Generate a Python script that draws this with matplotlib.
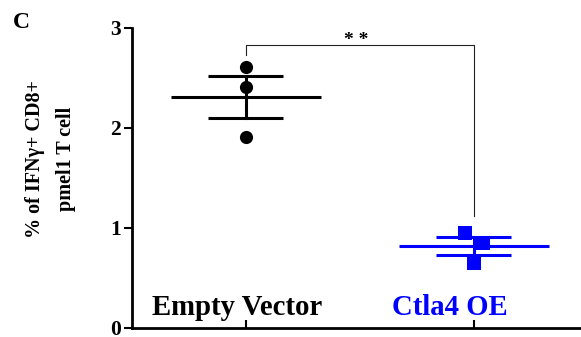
import numpy as np
import matplotlib.pyplot as plt

# data
groups = ["Empty Vector", "Ctla4 OE"]
empty_vector = [2.61, 2.41, 1.91]
ctla4_oe = [0.95, 0.85, 0.65]
jitter = [[0.0, 0.0, 0.0], [-0.04, 0.04, 0.0]]
colors = ["black", "#0000ff"]
markers = ["o", "s"]
yticks = [0, 1, 2, 3]
sig_label = "* *"

plt.rcParams['font.family'] = ['Liberation Serif', 'DejaVu Serif']
plt.rcParams['font.weight'] = 'bold'

fig = plt.figure(figsize=(5.81, 3.37), dpi=100)
ax = fig.add_axes([0.227, 0.027, 0.771, 0.890])

for i, vals in enumerate([empty_vector, ctla4_oe]):
    vals = np.asarray(vals)
    m = vals.mean()
    sem = vals.std(ddof=1) / np.sqrt(len(vals))
    c = colors[i]
    ax.scatter(i + np.asarray(jitter[i]), vals, s=90, marker=markers[i],
               color=c, zorder=3, linewidths=0)
    ax.plot([i - 0.33, i + 0.33], [m, m], color=c, lw=2.2, solid_capstyle='butt')
    ax.plot([i - 0.165, i + 0.165], [m + sem, m + sem], color=c, lw=2.2, solid_capstyle='butt')
    ax.plot([i - 0.165, i + 0.165], [m - sem, m - sem], color=c, lw=2.2, solid_capstyle='butt')
    ax.plot([i, i], [m - sem, m + sem], color=c, lw=2.2)

# significance bracket
ax.plot([0, 0, 1, 1], [2.73, 2.83, 2.83, 1.12], color='#222222', lw=0.8)
ax.text(0.485, 2.79, sig_label, ha='center', va='bottom', fontsize=14)

# group labels sit inside the axes
ax.text(-0.04, 0.13, groups[0], ha='center', va='baseline', fontsize=20.7,
        color=colors[0], fontweight='bold')
ax.text(0.895, 0.13, groups[1], ha='center', va='baseline', fontsize=20.7,
        color=colors[1], fontweight='bold')

ax.set_xlim(-0.5, 1.465)
ax.set_ylim(0, 3)
ax.set_yticks(yticks)
ax.set_yticklabels([str(t) for t in yticks], fontsize=15.5, fontweight='bold')
ax.set_xticks([0, 1])
ax.set_xticklabels([])
ax.tick_params(axis='y', direction='out', length=6, width=1.5, pad=2)
ax.tick_params(axis='x', direction='in', length=6, width=1.5)
for s in ['top', 'right']:
    ax.spines[s].set_visible(False)
for s in ['left', 'bottom']:
    ax.spines[s].set_linewidth(2)

ax.set_ylabel("% of IFN\u03b3+ CD8+\npmel1 T cell", fontsize=14.5,
              fontweight='bold', linespacing=1.7)
ax.yaxis.set_label_coords(-0.125, 0.562)

fig.text(0.022, 0.965, "C", fontsize=17, fontweight='bold', va='top')

fig.savefig("out.png", dpi=100)
